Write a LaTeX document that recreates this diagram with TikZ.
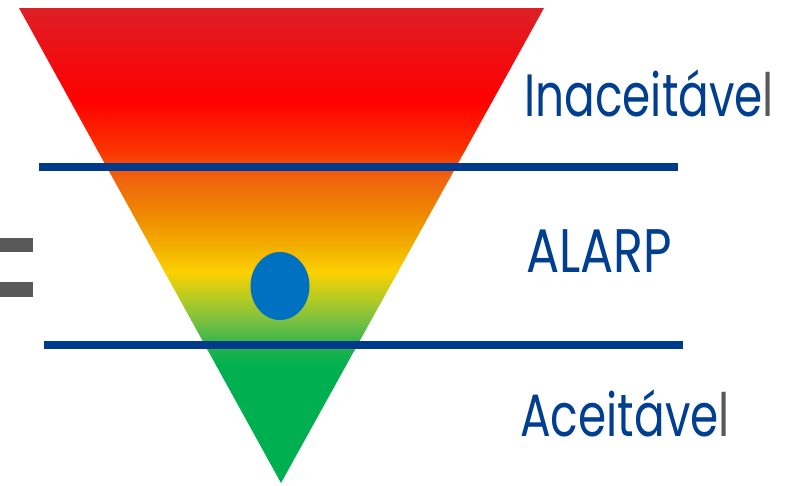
\documentclass[tikz,border=0pt]{standalone}
\usepackage{fontspec}
\newfontfamily\riskfont[FakeStretch=0.80]{Poppins}
\newfontfamily\wordfont[FakeStretch=0.76]{Poppins}

\definecolor{lineblue}{HTML}{003A8C}
\definecolor{textblue}{HTML}{003F8F}
\definecolor{dotblue}{HTML}{0070C0}
\definecolor{bargray}{HTML}{595959}
\definecolor{zA}{HTML}{DD1F26}
\definecolor{zB}{HTML}{FF0000}
\definecolor{zC}{HTML}{FA3400}
\definecolor{zD}{HTML}{F06410}
\definecolor{zE}{HTML}{EE8A00}
\definecolor{zF}{HTML}{F4B400}
\definecolor{zG}{HTML}{FCD000}
\definecolor{zH}{HTML}{B4CB24}
\definecolor{zI}{HTML}{7CC040}
\definecolor{zJ}{HTML}{1DB24C}
\definecolor{zK}{HTML}{00B050}

\tikzset{
  level/.style={inner sep=0pt, anchor=base west, text=textblue,
    font=\riskfont\fontsize{35}{40}\selectfont},
  word/.style={level, font=\wordfont\fontsize{34}{40}\selectfont},
  cut/.style={draw=lineblue, line width=4.5pt}
}

\begin{document}
\begin{tikzpicture}[x=0.02cm,y=-0.02cm]
\useasboundingbox (0,0) rectangle (787,485);

\begin{scope}
\clip (19,8) -- (544,8) -- (281,483) -- cycle;
\foreach \ya/\ca/\yb/\cb in {7/zA/100/zB, 100/zB/150/zC, 150/zC/178/zD,
    178/zD/215/zE, 215/zE/250/zF, 250/zF/272/zG, 272/zG/298/zH,
    298/zH/320/zI, 320/zI/350/zJ, 350/zJ/365/zK, 365/zK/485/zK}
  \shade[top color=\ca, bottom color=\cb] (0,\ya) rectangle (787,\yb+0.6);
\end{scope}

\fill[bargray] (0,238) rectangle (33,252);
\fill[bargray] (0,282) rectangle (33,297);

\coordinate (c1w) at (39,167);
\coordinate (c1e) at (678,167);
\coordinate (c2w) at (44,345);
\coordinate (c2e) at (683,345);
\draw[cut] (c1w) -- (c1e);
\draw[cut] (c2w) -- (c2e);

\fill[dotblue] (280,286) ellipse [x radius=29.5, y radius=34];

\node[word] (inac) at (524,116) {Inaceitáve{\color{bargray}l}};
\node[level] (alarp) at (526,272) {ALARP};
\node[word] (acei) at (520,436) {Aceitáve{\color{bargray}l}};

\end{tikzpicture}
\end{document}
